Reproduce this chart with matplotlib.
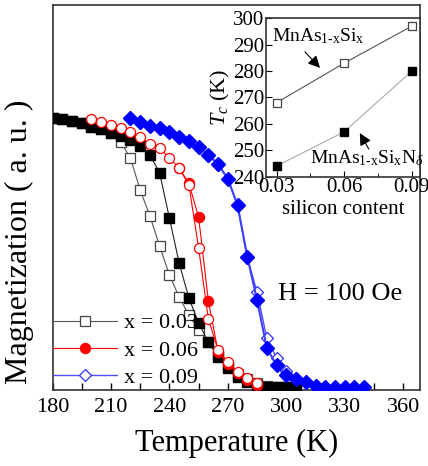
import matplotlib
matplotlib.use('Agg')
import matplotlib.pyplot as plt
from matplotlib.ticker import MultipleLocator, FixedLocator, NullLocator

plt.rcParams['font.family'] = ['Liberation Serif', 'DejaVu Serif']
plt.rcParams['mathtext.fontset'] = 'custom'
plt.rcParams['mathtext.rm'] = 'Liberation Serif'
plt.rcParams['mathtext.it'] = 'Liberation Serif:italic'

# x = 0.03, open squares (falls first)
t_03_open = [180, 185, 190, 195, 200, 205, 210, 215, 220, 225, 230, 235, 240,
             245, 250, 255, 260, 265, 270, 275, 280, 285, 290, 295, 300, 305]
m_03_open = [1.000, 0.996, 0.989, 0.982, 0.967, 0.960, 0.945, 0.912, 0.853, 0.735,
             0.640, 0.529, 0.423, 0.342, 0.276, 0.221, 0.176, 0.130, 0.090, 0.060,
             0.040, 0.025, 0.015, 0.012, 0.011, 0.011]
# x = 0.03, filled squares
t_03_full = [180, 185, 190, 195, 200, 205, 210, 215, 220, 225, 230, 235, 240,
             245, 250, 255, 260, 265, 270, 275, 280, 285, 290, 295, 300, 305]
m_03_full = [1.000, 0.996, 0.989, 0.982, 0.967, 0.960, 0.945, 0.934, 0.919, 0.897,
             0.864, 0.798, 0.632, 0.467, 0.338, 0.246, 0.176, 0.121, 0.081, 0.048,
             0.029, 0.015, 0.011, 0.011, 0.011, 0.011]

# x = 0.06
t_06_open = [200, 205, 210, 215, 220, 225, 230, 235, 240, 245, 250, 255, 260,
             265, 270, 275, 280, 285]
m_06_open = [0.996, 0.985, 0.974, 0.963, 0.949, 0.930, 0.904, 0.890, 0.853, 0.816,
             0.754, 0.522, 0.261, 0.147, 0.103, 0.066, 0.044, 0.026]
t_06_full = [245, 250, 255, 260, 265, 270, 275, 280, 285]
m_06_full = [0.816, 0.760, 0.636, 0.327, 0.140, 0.096, 0.063, 0.037, 0.018]

# x = 0.09
t_09 = [220, 225, 230, 235, 240, 245, 250, 255, 260, 265, 270, 275, 280,
        285, 290, 295, 300, 305, 310, 315, 320, 325, 330, 335, 340]
m_09_full = [1.000, 0.985, 0.971, 0.963, 0.949, 0.930, 0.915, 0.893, 0.864, 0.831,
             0.776, 0.680, 0.489, 0.331, 0.154, 0.092, 0.055, 0.040, 0.029, 0.015,
             0.011, 0.011, 0.011, 0.011, 0.011]
m_09_open = [0.998, 0.983, 0.969, 0.961, 0.947, 0.928, 0.913, 0.891, 0.862, 0.829,
             0.774, 0.678, 0.487, 0.360, 0.191, 0.118, 0.070, 0.045, 0.030, 0.020,
             0.012, 0.012, 0.012, 0.012, 0.012]

# inset: Tc vs silicon content
si = [0.03, 0.06, 0.09]
tc_si = [268, 283, 297]
tc_sin = [244, 257, 280]

fig = plt.figure(figsize=(4.28, 4.66), dpi=100)
ax = fig.add_axes([0.1227, 0.163, 0.858, 0.826])

ax.plot(t_03_open, m_03_open, color='#555555', lw=0.8, marker='s', ms=6.5,
        mfc='white', mec='#444444', mew=0.9, zorder=3, label='x = 0.03')
ax.plot(t_03_full, m_03_full, color='#222222', lw=0.8, marker='s', ms=6.5,
        mfc='black', mec='black', zorder=4)
ax.plot(t_06_full, m_06_full, color='red', lw=0.8, marker='o', ms=7.2,
        mfc='red', mec='red', zorder=5, label='x = 0.06')
ax.plot(t_06_open, m_06_open, color='red', lw=0.8, marker='o', ms=7.2,
        mfc='white', mec='red', mew=0.9, zorder=6)
ax.plot(t_09, m_09_open, color='#5050ff', lw=1.0, marker='D', ms=6.5,
        mfc='white', mec='#3030ff', mew=0.9, zorder=7, label='x = 0.09')
ax.plot(t_09, m_09_full, color='#4040ff', lw=1.5, marker='D', ms=7,
        mfc='blue', mec='blue', zorder=8)

ax.set_xlim(180, 368.5)
ax.set_ylim(0, 1.415)
ax.xaxis.set_major_locator(MultipleLocator(30))
ax.xaxis.set_minor_locator(MultipleLocator(15))
ax.yaxis.set_major_locator(NullLocator())
ax.tick_params(axis='x', which='major', direction='in', length=5, width=1,
               labelsize=16, pad=6)
ax.tick_params(axis='x', which='minor', direction='in', length=5, width=1)
for s in ax.spines.values():
    s.set_linewidth(1.2)
    s.set_color('#333333')

ax.set_xlabel('Temperature (K)', fontsize=22, labelpad=8)
ax.set_ylabel('Magnetization ( a. u. )', fontsize=23)
ax.yaxis.set_label_coords(-0.05, 0.384)

ax.text(327.4, 0.353, 'H = 100 Oe', fontsize=19, ha='center', va='center')

leg = ax.legend(loc='lower left', bbox_to_anchor=(-0.005, 0.0), frameon=False,
                fontsize=16, handlelength=2.9, handletextpad=0.3,
                labelspacing=0.3, borderpad=0.1, borderaxespad=0)

# inset
ins = fig.add_axes([0.621, 0.621, 0.3598, 0.34])
ins.plot(si, tc_si, color='#555555', lw=0.8, marker='s', ms=6,
         mfc='white', mec='#444444', mew=0.9)
ins.plot(si, tc_sin, color='#aaaaaa', lw=0.8, marker='s', ms=6,
         mfc='black', mec='black')
ins.set_xlim(0.0252, 0.0935)
ins.set_ylim(240, 300)
ins.xaxis.set_major_locator(FixedLocator(si))
ins.xaxis.set_minor_locator(FixedLocator([0.045, 0.075]))
ins.yaxis.set_major_locator(MultipleLocator(10))
ins.set_xticklabels(['0.03', '0.06', '0.09'])
ins.tick_params(which='both', direction='in', labelsize=15, pad=1)
ins.tick_params(which='major', length=4)
ins.tick_params(which='minor', length=3)
for s in ins.spines.values():
    s.set_linewidth(1.2)
    s.set_color('#333333')
ins.set_xlabel('silicon content', fontsize=15, labelpad=2)
ins.set_ylabel('$T_c$ (K)', fontsize=16, labelpad=1)

ins.text(0.0279, 293.3, r'MnAs$_{1\text{-}\mathrm{x}}$Si$_{\mathrm{x}}$', fontsize=14,
         ha='left', va='center')
ins.annotate('', xy=(0.0501, 280.4), xytext=(0.0417, 288.0),
             arrowprops=dict(arrowstyle='-|>', color='black', lw=0.8,
                             mutation_scale=18))
ins.text(0.0448, 247.1, r'MnAs$_{1\text{-}\mathrm{x}}$Si$_{\mathrm{x}}$N$_{\delta}$',
         fontsize=14, ha='left', va='center', clip_on=False)
ins.annotate('', xy=(0.0663, 257.4), xytext=(0.0715, 249.5),
             arrowprops=dict(arrowstyle='-|>', color='black', lw=0.8,
                             mutation_scale=18))

fig.savefig('out.png', dpi=100)
